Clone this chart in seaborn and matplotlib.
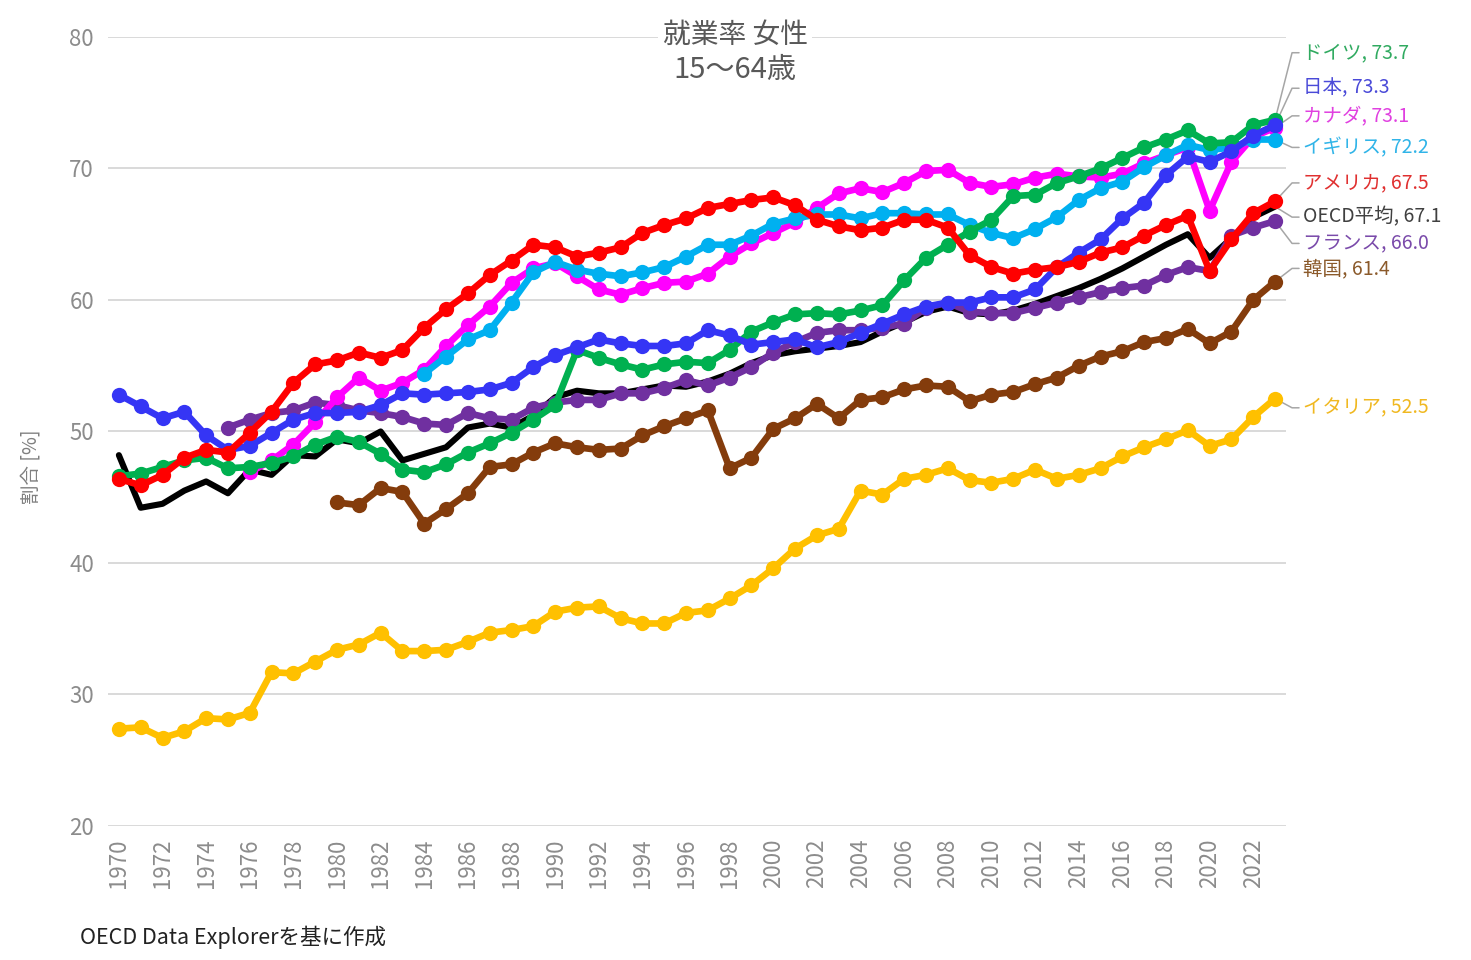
import matplotlib
matplotlib.use("Agg")
import matplotlib.pyplot as plt
import seaborn as sns

# ---- data ----
oecd = [48.2, 44.2, 44.5, 45.5, 46.2, 45.3, 47.1, 46.7, 48.2, 48.1,
        49.4, 49.1, 50.0, 47.8, 48.3, 48.8, 50.3, 50.6, 50.3, 51.2,
        52.6, 53.1, 52.9, 52.9, 53.2, 53.5, 53.4, 53.8, 54.4, 55.2,
        55.8, 56.1, 56.3, 56.5, 56.8, 57.6, 58.3, 59.1, 59.5, 59.0,
        58.9, 59.2, 59.7, 60.3, 60.9, 61.6, 62.4, 63.3, 64.2, 65.0,
        63.2, 64.7, 66.3, 67.1]
italy = [27.4, 27.5, 26.7, 27.2, 28.2, 28.1, 28.6, 31.7, 31.6, 32.5,
         33.4, 33.8, 34.7, 33.3, 33.3, 33.4, 34.0, 34.7, 34.9, 35.2,
         36.3, 36.6, 36.7, 35.8, 35.4, 35.4, 36.2, 36.4, 37.3, 38.3,
         39.6, 41.1, 42.1, 42.6, 45.5, 45.2, 46.4, 46.7, 47.2, 46.3,
         46.1, 46.4, 47.1, 46.4, 46.7, 47.2, 48.1, 48.8, 49.4, 50.1,
         48.9, 49.4, 51.1, 52.5]
korea = [44.6, 44.4, 45.7, 45.4, 43.0, 44.1, 45.3, 47.3, 47.5, 48.4,
         49.1, 48.8, 48.6, 48.7, 49.7, 50.4, 51.0, 51.6, 47.2, 48.0,
         50.2, 51.0, 52.1, 51.0, 52.4, 52.6, 53.2, 53.5, 53.4, 52.3,
         52.8, 53.0, 53.6, 54.1, 55.0, 55.7, 56.1, 56.8, 57.1, 57.8,
         56.7, 57.6, 60.0, 61.4]
france = [50.3, 50.9, 51.4, 51.6, 52.2,
          52.0, 51.6, 51.4, 51.1, 50.6, 50.5, 51.4, 51.0, 50.9, 51.8,
          52.2, 52.4, 52.4, 52.9, 52.9, 53.3, 53.9, 53.5, 54.1, 54.9,
          56.0, 56.8, 57.5, 57.7, 57.7, 57.9, 58.2, 59.4, 59.8, 59.1,
          59.0, 59.0, 59.4, 59.8, 60.2, 60.6, 60.9, 61.1, 61.9, 62.5,
          62.2, 64.9, 65.5, 66.0]
canada = [46.9, 47.8, 49.0, 50.7,
          52.6, 54.1, 53.1, 53.7, 54.7, 56.5, 58.1, 59.5, 61.3, 62.4,
          62.8, 61.8, 60.8, 60.4, 60.9, 61.3, 61.4, 62.0, 63.3, 64.3,
          65.1, 65.9, 67.0, 68.1, 68.5, 68.2, 68.9, 69.8, 69.9, 68.9,
          68.6, 68.8, 69.3, 69.6, 69.4, 69.3, 69.6, 70.4, 71.0, 71.6,
          66.8, 70.5, 72.4, 73.1]
uk = [54.4, 55.7, 57.0, 57.7, 59.8, 62.1, 62.9, 62.3, 62.0, 61.8,
      62.1, 62.5, 63.3, 64.2, 64.2, 64.9, 65.8, 66.2, 66.5, 66.5,
      66.2, 66.6, 66.6, 66.5, 66.5, 65.7, 65.1, 64.7, 65.4, 66.3,
      67.6, 68.5, 69.0, 70.1, 71.0, 71.8, 71.4, 71.6, 72.2, 72.2]
germany = [46.6, 46.8, 47.3, 47.8, 48.0, 47.2, 47.3, 47.6, 48.1, 49.0,
           49.6, 49.2, 48.3, 47.1, 46.9, 47.5, 48.4, 49.1, 49.9, 50.9,
           52.0, 56.2, 55.6, 55.1, 54.7, 55.1, 55.3, 55.2, 56.2, 57.6,
           58.3, 58.9, 59.0, 58.9, 59.2, 59.6, 61.5, 63.2, 64.2, 65.2,
           66.1, 67.9, 68.0, 68.9, 69.4, 70.0, 70.8, 71.6, 72.2, 72.9,
           71.9, 72.0, 73.3, 73.7]
japan = [52.8, 51.9, 51.0, 51.5, 49.7, 48.6, 48.9, 49.9, 50.9, 51.4,
         51.4, 51.5, 52.0, 52.9, 52.8, 52.9, 53.0, 53.2, 53.7, 54.9,
         55.8, 56.4, 57.0, 56.7, 56.5, 56.5, 56.7, 57.7, 57.3, 56.6,
         56.8, 57.0, 56.4, 56.8, 57.5, 58.2, 58.9, 59.5, 59.8, 59.8,
         60.2, 60.2, 60.8, 62.5, 63.6, 64.6, 66.2, 67.4, 69.5, 70.9,
         70.5, 71.3, 72.5, 73.3]
usa = [46.4, 45.9, 46.7, 48.0, 48.6, 48.4, 49.9, 51.5, 53.7, 55.1,
       55.4, 56.0, 55.6, 56.2, 57.9, 59.3, 60.5, 61.9, 63.0, 64.2,
       64.0, 63.3, 63.6, 64.0, 65.1, 65.7, 66.2, 67.0, 67.3, 67.6,
       67.8, 67.2, 66.1, 65.6, 65.3, 65.5, 66.1, 66.1, 65.5, 63.4,
       62.5, 62.0, 62.3, 62.5, 62.9, 63.6, 64.0, 64.9, 65.7, 66.4,
       62.2, 64.6, 66.6, 67.5]

names = ["OECD平均", "イタリア", "韓国", "フランス", "カナダ",
         "イギリス", "ドイツ", "日本", "アメリカ"]
start_years = [1970, 1970, 1980, 1975, 1976, 1984, 1970, 1970, 1970]
values = [oecd, italy, korea, france, canada, uk, germany, japan, usa]

# ---- styles ----
line_colors = ["#000000", "#ffc000", "#843c0c", "#7030a0", "#ff00ff",
               "#00b0f0", "#00b050", "#3535f5", "#ff0000"]
text_colors = ["#404040", "#f0b820", "#8b5a2b", "#7a4aaa", "#e040e0",
               "#30b4e8", "#30aa60", "#4a4ad8", "#e03030"]
label_y = [66.3, 51.8, 62.4, 64.3, 74.0, 71.6, 78.8, 76.1, 68.9]

sns.set_theme(style="white")
plt.rcParams["font.family"] = ["Noto Sans CJK JP", "DejaVu Sans"]

fig = plt.figure(figsize=(14.71, 9.6), dpi=100)
ax = fig.add_axes([0.0734, 0.1396, 0.8008, 0.8219])

for i, (name, y0, vals) in enumerate(zip(names, start_years, values)):
    yrs = list(range(y0, y0 + len(vals)))
    if name == "OECD平均":
        sns.lineplot(x=yrs, y=vals, color=line_colors[i], linewidth=4.4,
                     ax=ax, zorder=2 + i)
    else:
        sns.lineplot(x=yrs, y=vals, color=line_colors[i], linewidth=4.8,
                     marker="o", markersize=11, markeredgewidth=0,
                     ax=ax, zorder=2 + i)
    # leader line + label
    last_x, last_y = yrs[-1], vals[-1]
    ax.plot([last_x, 2023.78, 2024.1], [last_y, label_y[i], label_y[i]],
            color="#a6a6a6", linewidth=1.1, clip_on=False, zorder=1)
    ax.text(2024.3, label_y[i], f"{name}, {last_y:.1f}", color=text_colors[i],
            fontsize=14, va="center", ha="left", clip_on=False)

ax.set_xlim(1969.5, 2023.5)
ax.set_ylim(20, 80)
ax.set_yticks(range(20, 81, 10))
ax.set_xticks(range(1970, 2023, 2))
ax.set_xticklabels([str(y) for y in range(1970, 2023, 2)], rotation=90)
ax.tick_params(axis="both", length=0, labelsize=16, colors="#8c8c8c")
ax.tick_params(axis="x", pad=9)
ax.tick_params(axis="y", pad=10)
ax.grid(axis="y", color="#d9d9d9", linewidth=1.4, zorder=0)
ax.set_axisbelow(True)
for s in ax.spines.values():
    s.set_visible(False)
ax.set_xlabel("")
ax.set_ylabel("")

fig.text(31 / 1471, 1 - 467 / 960, "割合 [%]", rotation=90, ha="center",
         va="center", fontsize=14, color="#808080")
fig.text(0.4997, 0.9635, "就業率 女性", ha="center", va="center",
         fontsize=20, color="#595959",
         bbox=dict(facecolor="white", edgecolor="none", pad=3))
fig.text(0.4997, 0.927, "15～64歳", ha="center", va="center",
         fontsize=21, color="#595959")
fig.text(80 / 1471, 1 - 937 / 960, "OECD Data Explorerを基に作成",
         ha="left", va="center", fontsize=15.5, color="#222222")

fig.savefig("out.png", dpi=100)
